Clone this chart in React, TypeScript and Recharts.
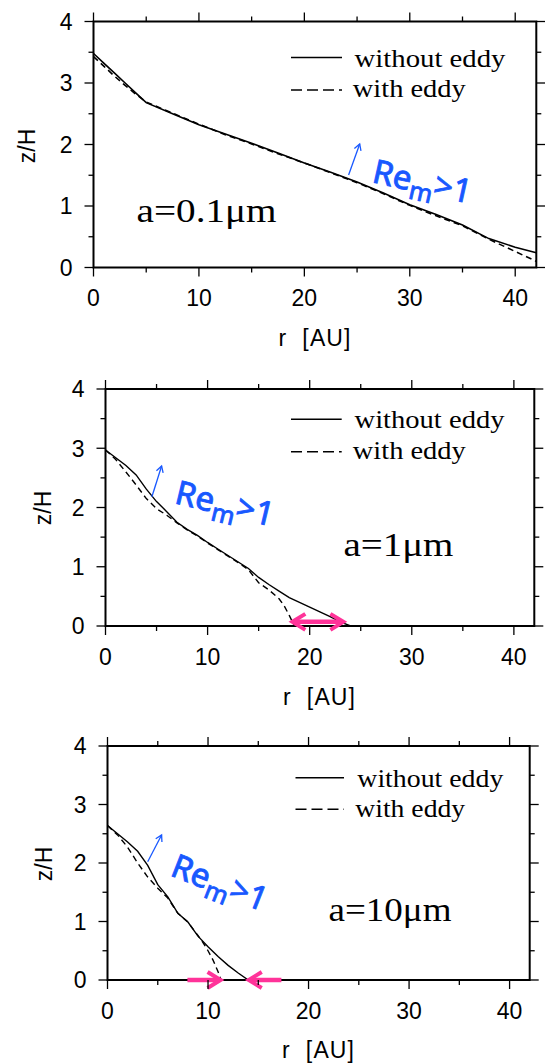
import React from "react";
import { LineChart, Line, XAxis, YAxis, ReferenceArea, ReferenceLine } from "recharts";

// axis ticks
const X_TICKS = [0, 5, 10, 15, 20, 25, 30, 35, 40];
const X_LABELS = [0, 10, 20, 30, 40];
const Y_TICKS = [0, 0.5, 1, 1.5, 2, 2.5, 3, 3.5, 4];
const Y_LABELS = [0, 1, 2, 3, 4];

// a = 0.1 um
const R1_SOLID = [0, 1, 2, 3, 4, 5, 7.5, 10, 12.5, 15, 17.5, 20, 22.5, 25, 27.5, 30, 32.5, 35, 37.5, 40, 42];
const Z1_SOLID = [3.48, 3.32, 3.16, 3.0, 2.84, 2.68, 2.5, 2.32, 2.17, 2.02, 1.86, 1.7, 1.55, 1.39, 1.21, 1.02, 0.86, 0.69, 0.47, 0.33, 0.24];
const R1_DASH = [0, 1, 2, 3, 4, 5, 7.5, 10, 12.5, 15, 17.5, 20, 22.5, 25, 27.5, 30, 32.5, 35, 37.5, 40, 42];
const Z1_DASH = [3.43, 3.27, 3.11, 2.96, 2.82, 2.69, 2.51, 2.33, 2.16, 2.01, 1.85, 1.7, 1.54, 1.38, 1.2, 1.01, 0.84, 0.68, 0.46, 0.26, 0.1];

// a = 1 um
const R2_SOLID = [0, 1, 2, 3, 4, 5, 6, 7, 8, 9, 10, 11, 12, 13, 14, 15, 16, 17, 18, 19, 20, 21, 22, 23, 24, 42];
const Z2_SOLID = [2.97, 2.84, 2.71, 2.55, 2.31, 2.1, 1.93, 1.75, 1.63, 1.53, 1.41, 1.3, 1.19, 1.08, 0.97, 0.82, 0.7, 0.59, 0.48, 0.4, 0.32, 0.24, 0.16, 0.07, 0, 0];
const R2_DASH = [0, 1, 2, 3, 4, 5, 6, 7, 8, 9, 10, 11, 12, 13, 14, 15, 16, 17, 17.5, 18, 18.5, 42];
const Z2_DASH = [2.97, 2.81, 2.6, 2.38, 2.15, 1.98, 1.87, 1.74, 1.62, 1.52, 1.4, 1.29, 1.18, 1.07, 0.95, 0.73, 0.61, 0.46, 0.34, 0.18, 0, 0];

// a = 10 um
const R3_SOLID = [0, 1, 2, 3, 4, 5, 6, 7, 8, 9, 10, 11, 12, 13, 14, 42];
const Z3_SOLID = [2.64, 2.5, 2.36, 2.2, 1.96, 1.63, 1.42, 1.14, 0.99, 0.75, 0.57, 0.4, 0.25, 0.12, 0, 0];
const R3_DASH = [0, 1, 2, 3, 4, 5, 6, 7, 8, 9, 9.5, 10, 10.5, 11, 11.3, 42];
const Z3_DASH = [2.64, 2.48, 2.27, 2.0, 1.76, 1.57, 1.4, 1.14, 0.99, 0.76, 0.64, 0.5, 0.34, 0.14, 0, 0];

// pink arrows (r from -> to, at height z)
const ARROW2_R = [18.3, 23.3];
const ARROW2_Z = 0.07;
const ARROW3A_R = [7.95, 11.25];
const ARROW3B_R = [17.3, 14.05];
const ARROW3_Z = 0;

const SIZE_LABELS = ["a=0.1\u03bcm", "a=1\u03bcm", "a=10\u03bcm"];

const SERIF = "'Liberation Serif', 'Times New Roman', serif";
const SANS = "'Liberation Sans', Arial, Helvetica, sans-serif";
const HAND = "'Noto Sans', 'DejaVu Sans', sans-serif";
const BLUE = "#1858ff";
const PINK = "#ff3399";

const TICK_GAP_X = 22;
const TICK_GAP_Y = 21;
const MAJOR_LEN = 9;
const MINOR_LEN = 5;
const X_AXIS_H = 30;

const zip = (r: number[], z: number[]) => r.map((v, i) => ({ r: v, z: z[i] }));

const SERIES = [
  { solid: zip(R1_SOLID, Z1_SOLID), dash: zip(R1_DASH, Z1_DASH), width: 1.6 },
  { solid: zip(R2_SOLID, Z2_SOLID), dash: zip(R2_DASH, Z2_DASH), width: 1.4 },
  { solid: zip(R3_SOLID, Z3_SOLID), dash: zip(R3_DASH, Z3_DASH), width: 1.4 },
];

// page-pixel layout of each panel
const LAYOUT = [
  {
    top: 0, height: 355, left: 93.5, right: 536.3, plotTop: 21.5, plotBottom: 267.5,
    legend: { x1: 291, x2: 342, y1: 57.5, y2: 90, tx1: 354.5, tx2: 352.8, b1: 66.7, b2: 97.3, w1: 151, w2: 113 },
    size: { x: 136.6, y: 221.7, w: 140 },
    yTitle: { x: 27, y: 146 }, xTitle: { x: 314.5, y: 346 },
    re: { x: 371, y: 182, rot: 12.5 }, reArrow: [348.6, 175, 359.7, 144],
  },
  {
    top: 355, height: 355, left: 105.5, right: 534.3, plotTop: 389, plotBottom: 626,
    legend: { x1: 291, x2: 341.7, y1: 419.3, y2: 451.7, tx1: 354.5, tx2: 352.8, b1: 428.3, b2: 459, w1: 150, w2: 113 },
    size: { x: 343.4, y: 556, w: 110 },
    yTitle: { x: 42.5, y: 508 }, xTitle: { x: 319, y: 705 },
    re: { x: 173.5, y: 503, rot: 13.5 }, reArrow: [151.9, 496.7, 161.6, 466],
  },
  {
    top: 710, height: 354, left: 107.5, right: 529.7, plotTop: 746, plotBottom: 980,
    legend: { x1: 295.5, x2: 344, y1: 777.7, y2: 809.3, tx1: 357.3, tx2: 355.2, b1: 786.7, b2: 817.3, w1: 146, w2: 110 },
    size: { x: 328.5, y: 920.7, w: 123 },
    yTitle: { x: 44, y: 864 }, xTitle: { x: 318, y: 1058 },
    re: { x: 169, y: 875, rot: 21.5 }, reArrow: [147.7, 861.7, 161.6, 835],
  },
];

function makeXTick(plotH: number) {
  return (props: any) => {
    const { x, y, payload } = props;
    const v = payload.value;
    const major = X_LABELS.includes(v);
    const len = major ? MAJOR_LEN : MINOR_LEN;
    const axisY = y - TICK_GAP_X;
    const topY = axisY - plotH;
    return (
      <g>
        <line x1={x} x2={x} y1={axisY} y2={axisY + len} stroke="#000" strokeWidth={1.3} />
        <line x1={x} x2={x} y1={topY} y2={topY - len} stroke="#000" strokeWidth={1.3} />
        {major && (
          <text x={x} y={y} dy="0.72em" textAnchor="middle" fontFamily={SANS} fontSize={23} fill="#000">
            {v}
          </text>
        )}
      </g>
    );
  };
}

function makeYTick(plotW: number) {
  return (props: any) => {
    const { x, y, payload } = props;
    const v = payload.value;
    const major = Y_LABELS.includes(v);
    const len = major ? MAJOR_LEN : MINOR_LEN;
    const axisX = x + TICK_GAP_Y;
    const rightX = axisX + plotW;
    return (
      <g>
        <line x1={axisX} x2={axisX - len} y1={y} y2={y} stroke="#000" strokeWidth={1.3} />
        <line x1={rightX} x2={rightX + len} y1={y} y2={y} stroke="#000" strokeWidth={1.3} />
        {major && (
          <text x={x} y={y} dy="0.36em" textAnchor="end" fontFamily={SANS} fontSize={23} fill="#000">
            {v}
          </text>
        )}
      </g>
    );
  };
}

function chevron(tx: number, ty: number, ux: number, uy: number, l: number, w: number) {
  const bx = tx - ux * l;
  const by = ty - uy * l;
  const nx = -uy * w;
  const ny = ux * w;
  return `M${bx + nx},${by + ny} L${tx},${ty} L${bx - nx},${by - ny}`;
}

function PinkArrow(props: any) {
  const { x1, y1, x2, y2, both } = props;
  const dx = x2 - x1;
  const dy = y2 - y1;
  const len = Math.hypot(dx, dy) || 1;
  const ux = dx / len;
  const uy = dy / len;
  const cut = 3;
  return (
    <g>
      <line
        x1={both ? x1 + ux * cut : x1}
        y1={both ? y1 + uy * cut : y1}
        x2={x2 - ux * cut}
        y2={y2 - uy * cut}
        stroke={PINK}
        strokeWidth={4.5}
      />
      <path d={chevron(x2, y2, ux, uy, 13, 8)} fill="none" stroke={PINK} strokeWidth={4} strokeLinejoin="miter" />
      {both && <path d={chevron(x1, y1, -ux, -uy, 13, 8)} fill="none" stroke={PINK} strokeWidth={4} strokeLinejoin="miter" />}
    </g>
  );
}

function Panel({ index }: { index: number }) {
  const L = LAYOUT[index];
  const S = SERIES[index];
  const plotW = L.right - L.left;
  const plotH = L.plotBottom - L.plotTop;
  return (
    <div style={{ position: "absolute", left: 0, top: L.top }}>
      <LineChart
        width={545}
        height={L.height}
        margin={{
          top: L.plotTop - L.top,
          right: 545 - L.right,
          bottom: L.top + L.height - L.plotBottom - X_AXIS_H,
          left: 0,
        }}
      >
        <XAxis
          type="number"
          dataKey="r"
          domain={[0, 42]}
          ticks={X_TICKS}
          interval={0}
          tickSize={0}
          tickMargin={TICK_GAP_X}
          tickLine={false}
          axisLine={false}
          tick={makeXTick(plotH)}
          height={X_AXIS_H}
          allowDataOverflow
        />
        <YAxis
          type="number"
          domain={[0, 4]}
          ticks={Y_TICKS}
          interval={0}
          tickSize={0}
          tickMargin={TICK_GAP_Y}
          tickLine={false}
          axisLine={false}
          tick={makeYTick(plotW)}
          width={L.left}
          allowDataOverflow
        />
        <Line
          data={S.solid}
          dataKey="z"
          name="without eddy"
          type="linear"
          stroke="#000"
          strokeWidth={S.width}
          dot={false}
          isAnimationActive={false}
        />
        <Line
          data={S.dash}
          dataKey="z"
          name="with eddy"
          type="linear"
          stroke="#000"
          strokeWidth={S.width}
          strokeDasharray="6 4"
          dot={false}
          isAnimationActive={false}
        />
        <ReferenceArea x1={0} x2={42} y1={0} y2={4} fill="none" stroke="#000" strokeWidth={2} ifOverflow="visible" />
        {index === 1 && (
          <ReferenceLine
            segment={[
              { x: ARROW2_R[0], y: ARROW2_Z },
              { x: ARROW2_R[1], y: ARROW2_Z },
            ]}
            ifOverflow="visible"
            shape={(p: any) => <PinkArrow {...p} both />}
          />
        )}
        {index === 2 && (
          <ReferenceLine
            segment={[
              { x: ARROW3A_R[0], y: ARROW3_Z },
              { x: ARROW3A_R[1], y: ARROW3_Z },
            ]}
            ifOverflow="visible"
            shape={(p: any) => <PinkArrow {...p} />}
          />
        )}
        {index === 2 && (
          <ReferenceLine
            segment={[
              { x: ARROW3B_R[0], y: ARROW3_Z },
              { x: ARROW3B_R[1], y: ARROW3_Z },
            ]}
            ifOverflow="visible"
            shape={(p: any) => <PinkArrow {...p} />}
          />
        )}
      </LineChart>
    </div>
  );
}

function Annotations({ index }: { index: number }) {
  const L = LAYOUT[index];
  const g = L.legend;
  const [ax, ay, bx, by] = L.reArrow;
  const len = Math.hypot(bx - ax, by - ay);
  const ux = (bx - ax) / len;
  const uy = (by - ay) / len;
  return (
    <g>
      <line x1={g.x1} x2={g.x2} y1={g.y1} y2={g.y1} stroke="#000" strokeWidth={1.6} />
      <line x1={g.x1} x2={g.x2} y1={g.y2} y2={g.y2} stroke="#000" strokeWidth={1.6} strokeDasharray="11 5" />
      <text x={g.tx1} y={g.b1} fontFamily={SERIF} fontSize={25} textLength={g.w1} lengthAdjust="spacingAndGlyphs">
        without eddy
      </text>
      <text x={g.tx2} y={g.b2} fontFamily={SERIF} fontSize={25} textLength={g.w2} lengthAdjust="spacingAndGlyphs">
        with eddy
      </text>
      <text x={L.size.x} y={L.size.y} fontFamily={SERIF} fontSize={33} textLength={L.size.w} lengthAdjust="spacingAndGlyphs">
        {SIZE_LABELS[index]}
      </text>
      <text
        x={L.yTitle.x}
        y={L.yTitle.y}
        dy="0.36em"
        textAnchor="middle"
        fontFamily={SANS}
        fontSize={23}
        transform={`rotate(-90 ${L.yTitle.x} ${L.yTitle.y})`}
      >
        z/H
      </text>
      <text
        x={L.xTitle.x}
        y={L.xTitle.y}
        textAnchor="middle"
        fontFamily={SANS}
        fontSize={23}
        textLength={72}
        lengthAdjust="spacing"
        style={{ whiteSpace: "pre" }}
      >
        {"r  [AU]"}
      </text>
      <line x1={ax} y1={ay} x2={bx} y2={by} stroke={BLUE} strokeWidth={1.3} />
      <path d={chevron(bx, by, ux, uy, 6, 3.5)} fill="none" stroke={BLUE} strokeWidth={1.3} />
      <text
        x={L.re.x}
        y={L.re.y}
        fontFamily={HAND}
        fontSize={33}
        fill={BLUE}
        stroke={BLUE}
        strokeWidth={0.9}
        transform={`rotate(${L.re.rot} ${L.re.x} ${L.re.y})`}
      >
        <tspan>Re</tspan>
        <tspan fontSize={25} dy={8}>m</tspan>
        <tspan dy={-8}>{">1"}</tspan>
      </text>
    </g>
  );
}

export default function App() {
  return (
    <div style={{ position: "absolute", left: 0, top: 0, width: 545, height: 1064, background: "#fff" }}>
      {LAYOUT.map((_, i) => (
        <Panel key={i} index={i} />
      ))}
      <svg
        width={545}
        height={1064}
        style={{ position: "absolute", left: 0, top: 0, pointerEvents: "none" }}
      >
        {LAYOUT.map((_, i) => (
          <Annotations key={i} index={i} />
        ))}
      </svg>
    </div>
  );
}
